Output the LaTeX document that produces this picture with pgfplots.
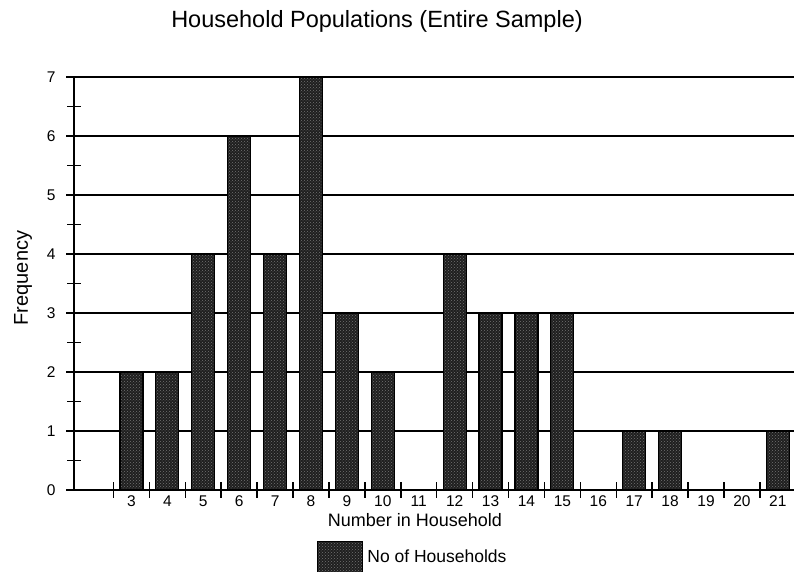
\documentclass[border=0pt]{standalone}
\usepackage{pgfplots}
\pgfplotsset{compat=1.18}
\usepackage{fontspec}
\setmainfont{Liberation Sans}
\usetikzlibrary{patterns}
\begin{document}
\begin{tikzpicture}[x=1pt,y=1pt]
\useasboundingbox (0,0) rectangle (794,572);
\begin{axis}[
  at={(74pt,82pt)}, anchor=south west,
  scale only axis, width=720pt, height=413pt,
  xmin=1.40, xmax=21.45, ymin=0, ymax=7,
  axis x line=bottom, axis y line=left,
  x axis line style={draw=none},
  y axis line style={line width=1.8pt,-},
  ybar, bar width=0.64,
  xtick={2.5,3.5,...,20.5}, xticklabels={},
  extra x ticks={3,4,...,21},
  extra x tick style={tick style={draw=none}},
  ytick={0,...,7}, minor ytick={0.5,1.5,...,6.5},
  tick align=center, major tick length=16pt, minor tick length=14pt,
  tick style={black, line width=1.5pt},
  ymajorgrids, major grid style={black, line width=1.5pt},
  tick label style={font=\fontsize{15.5}{17}\selectfont},
  xticklabel style={yshift=6pt},
  yticklabel style={xshift=-7pt},
  /pgf/number format/assume math mode=true,
  legend style={at={(axis description cs:0.3375,-0.163)}, anchor=west, draw=none, fill=none, inner sep=0pt,
    font=\fontsize{17.5}{20}\selectfont, /tikz/every even column/.style={column sep=0pt},
    nodes={inner xsep=4pt}},
  legend image code/.code={\draw[#1] (0pt,-16pt) rectangle (45pt,15pt);},
]
\addplot[draw=black, line width=1.2pt, fill=black!88,
  postaction={pattern=crosshatch dots, pattern color=black!55}]
  coordinates {(3,2) (4,2) (5,4) (6,6) (7,4) (8,7) (9,3) (10,2) (12,4) (13,3) (14,3) (15,3) (17,1) (18,1) (21,1)};
\addlegendentry{No of Households}
\draw[black, line width=1.8pt] (axis cs:1.79,0) -- (axis cs:21.45,0);
\draw[black, line width=1.8pt] (axis cs:1.40,0) -- ++(0pt,-5pt);
\end{axis}
\node[font=\fontsize{23.5}{26}\selectfont] at (377,551) {Household Populations (Entire Sample)};
\node[font=\fontsize{20}{22}\selectfont, rotate=90] at (23,294) {Frequency};
\node[font=\fontsize{18}{20}\selectfont] at (415,52) {Number in Household};
\end{tikzpicture}
\end{document}
